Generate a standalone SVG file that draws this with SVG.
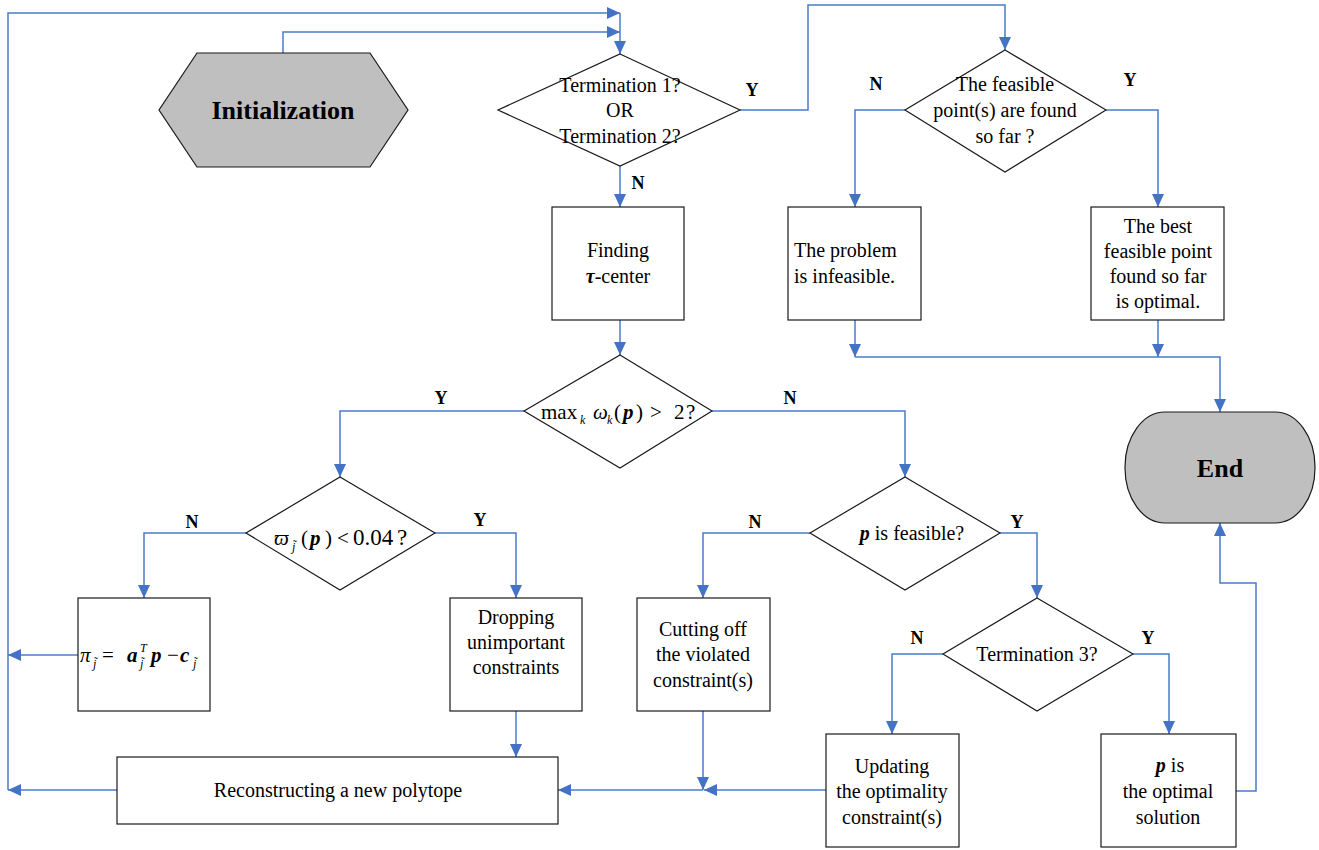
<svg xmlns="http://www.w3.org/2000/svg" width="1319" height="850" viewBox="0 0 1319 850" font-family="'Liberation Serif', 'DejaVu Serif', serif">
<style>
text{font-family:'Liberation Serif','DejaVu Serif',serif}
.t{font-size:20px;fill:#000;text-anchor:middle}
.m{font-size:21px;fill:#000;text-anchor:start}
.bi{font-weight:bold;font-style:italic}
.it{font-style:italic}
.sb{font-size:12px;font-style:italic}
.lbl{font-size:18px;font-weight:bold;fill:#000;text-anchor:middle}
.big{font-size:26px;font-weight:bold;fill:#000;text-anchor:middle}
.box{fill:#fff;stroke:#1a1a1a;stroke-width:1.2}
.term{fill:#bfbfbf;stroke:#1a1a1a;stroke-width:1.2}
.ea{fill:none;stroke:#4a7cc9;stroke-width:1.5;marker-end:url(#ah)}
</style>
<defs>
<marker id="ah" markerUnits="userSpaceOnUse" markerWidth="14" markerHeight="14" refX="13" refY="6" orient="auto">
<path d="M0,0 L13,6 L0,12 z" fill="#4472c4"/>
</marker>
</defs>
<rect width="1319" height="850" fill="#fff"/>

<g id="connectors">
<path class="ea" d="M8,790 L8,13 L620,13"/>
<path class="ea" d="M283,53 L283,32 L620,32"/>
<path class="ea" d="M620,13 L620,54"/>
<path class="ea" d="M740,110 L808,110 L808,5 L1005,5 L1005,50"/>
<path class="ea" d="M620,166 L620,207"/>
<path class="ea" d="M620,320 L620,355"/>
<path class="ea" d="M905,110 L855,110 L855,207"/>
<path class="ea" d="M1106,110 L1158,110 L1158,207"/>
<path class="ea" d="M855,320 L855,357"/>
<path class="ea" d="M1158,320 L1158,357"/>
<path class="ea" d="M855,357 L1220,357 L1220,412"/>
<path class="ea" d="M524,411 L340,411 L340,477"/>
<path class="ea" d="M712,411 L905,411 L905,477"/>
<path class="ea" d="M246,533 L144,533 L144,598"/>
<path class="ea" d="M435,533 L516,533 L516,598"/>
<path class="ea" d="M516,711 L516,757"/>
<path class="ea" d="M78,655 L8,655"/>
<path class="ea" d="M117,790 L8,790"/>
<path class="ea" d="M810,533 L703,533 L703,598"/>
<path class="ea" d="M1000,533 L1037,533 L1037,598"/>
<path class="ea" d="M703,711 L703,790"/>
<path class="ea" d="M826,790 L704,790"/>
<path class="ea" d="M703,790 L558,790"/>
<path class="ea" d="M943,654 L892,654 L892,734"/>
<path class="ea" d="M1133,654 L1169,654 L1169,734"/>
<path class="ea" d="M1236,791 L1256,791 L1256,583 L1220,583 L1220,523"/>
</g>

<g id="labels">
<text class="lbl" x="752" y="96">Y</text>
<text class="lbl" x="638" y="189">N</text>
<text class="lbl" x="876" y="90">N</text>
<text class="lbl" x="1130" y="86">Y</text>
<text class="lbl" x="441" y="404">Y</text>
<text class="lbl" x="790" y="404">N</text>
<text class="lbl" x="192" y="528">N</text>
<text class="lbl" x="480" y="526">Y</text>
<text class="lbl" x="755" y="528">N</text>
<text class="lbl" x="1017" y="528">Y</text>
<text class="lbl" x="917" y="644">N</text>
<text class="lbl" x="1148" y="644">Y</text>
</g>

<g id="init">
<polygon class="term" points="197,53 370,53 408,110 370,167 197,167 159,110"/>
<text class="big" x="283" y="119">Initialization</text>
</g>

<g id="term12">
<polygon class="box" points="620,54 740,110 620,166 498,110"/>
<text class="t" x="620" y="92">Termination 1?</text>
<text class="t" x="620" y="117">OR</text>
<text class="t" x="620" y="143">Termination 2?</text>
</g>

<g id="feasfound">
<polygon class="box" points="1005,50 1106,110 1005,172 905,110"/>
<text class="t" x="1005" y="91">The feasible</text>
<text class="t" x="1005" y="117">point(s) are found</text>
<text class="t" x="1005" y="143">so far ?</text>
</g>

<g id="infeasible">
<rect class="box" x="788" y="207" width="133" height="113"/>
<text class="t" x="794" y="257" style="text-anchor:start">The problem</text>
<text class="t" x="794" y="283" style="text-anchor:start">is infeasible.</text>
</g>

<g id="bestpoint">
<rect class="box" x="1091" y="207" width="133" height="113"/>
<text class="t" x="1158" y="233">The best</text>
<text class="t" x="1158" y="258">feasible point</text>
<text class="t" x="1158" y="283">found so far</text>
<text class="t" x="1158" y="308">is optimal.</text>
</g>

<g id="end">
<rect class="term" x="1125" y="412" width="190" height="111" rx="40" ry="55"/>
<text class="big" x="1220" y="477">End</text>
</g>

<g id="center">
<rect class="box" x="552" y="207" width="132" height="113"/>
<text class="t" x="618" y="257">Finding</text>
<text class="t" x="618" y="283"><tspan class="bi">τ</tspan>-center</text>
</g>

<g id="maxomega">
<polygon class="box" points="620,355 712,411 620,468 524,411"/>
<text class="m" y="419"><tspan x="541">max</tspan><tspan class="sb" x="580" y="424">k</tspan><tspan class="it" x="593" y="419">ω</tspan><tspan class="sb" x="607" y="424">k</tspan><tspan x="614" y="419">(</tspan><tspan class="bi" x="623">p</tspan><tspan x="636">)</tspan><tspan x="650">&gt;</tspan><tspan x="674">2</tspan><tspan x="686">?</tspan></text>
</g>

<g id="varpi">
<polygon class="box" points="340,477 435,533 340,590 246,533"/>
<text class="m" y="545"><tspan class="it" x="274">ϖ</tspan><tspan class="sb" x="292" y="551">j̃</tspan><tspan x="301" y="545">(</tspan><tspan class="bi" x="310">p</tspan><tspan x="325">)</tspan><tspan x="337">&lt;</tspan><tspan x="353" font-size="23">0.04</tspan><tspan x="397" font-size="23">?</tspan></text>
</g>

<g id="pi">
<rect class="box" x="78" y="598" width="132" height="113"/>
<text class="m" y="662"><tspan class="it" x="80">π</tspan><tspan class="sb" x="93" y="668">j̃</tspan><tspan x="102" y="662">=</tspan><tspan class="bi" x="127">a</tspan><tspan class="sb" x="140" y="652">T</tspan><tspan class="sb" x="140" y="668">j̃</tspan><tspan class="bi" x="151" y="662">p</tspan><tspan x="167">−</tspan><tspan class="bi" x="180">c</tspan><tspan class="sb" x="193" y="668">j̃</tspan></text>
</g>

<g id="dropping">
<rect class="box" x="450" y="598" width="132" height="113"/>
<text class="t" x="516" y="624">Dropping</text>
<text class="t" x="516" y="649">unimportant</text>
<text class="t" x="516" y="674">constraints</text>
</g>

<g id="reconstruct">
<rect class="box" x="117" y="757" width="441" height="67"/>
<text class="t" x="338" y="797">Reconstructing a new polytope</text>
</g>

<g id="pfeasible">
<polygon class="box" points="905,477 1000,533 905,590 810,533"/>
<text class="t" x="912" y="540"><tspan class="bi">p</tspan>  is feasible?</text>
</g>

<g id="cutting">
<rect class="box" x="637" y="598" width="133" height="113"/>
<text class="t" x="703" y="636">Cutting off</text>
<text class="t" x="703" y="661">the violated</text>
<text class="t" x="703" y="687">constraint(s)</text>
</g>

<g id="term3">
<polygon class="box" points="1037,598 1133,654 1037,711 943,654"/>
<text class="t" x="1037" y="661">Termination 3?</text>
</g>

<g id="updating">
<rect class="box" x="826" y="734" width="133" height="113"/>
<text class="t" x="892" y="773">Updating</text>
<text class="t" x="892" y="798">the optimality</text>
<text class="t" x="892" y="824">constraint(s)</text>
</g>

<g id="optimal">
<rect class="box" x="1101" y="734" width="135" height="113"/>
<text class="t" x="1170" y="772"><tspan class="bi">p</tspan>   is</text>
<text class="t" x="1168" y="798">the optimal</text>
<text class="t" x="1168" y="824">solution</text>
</g>
</svg>
